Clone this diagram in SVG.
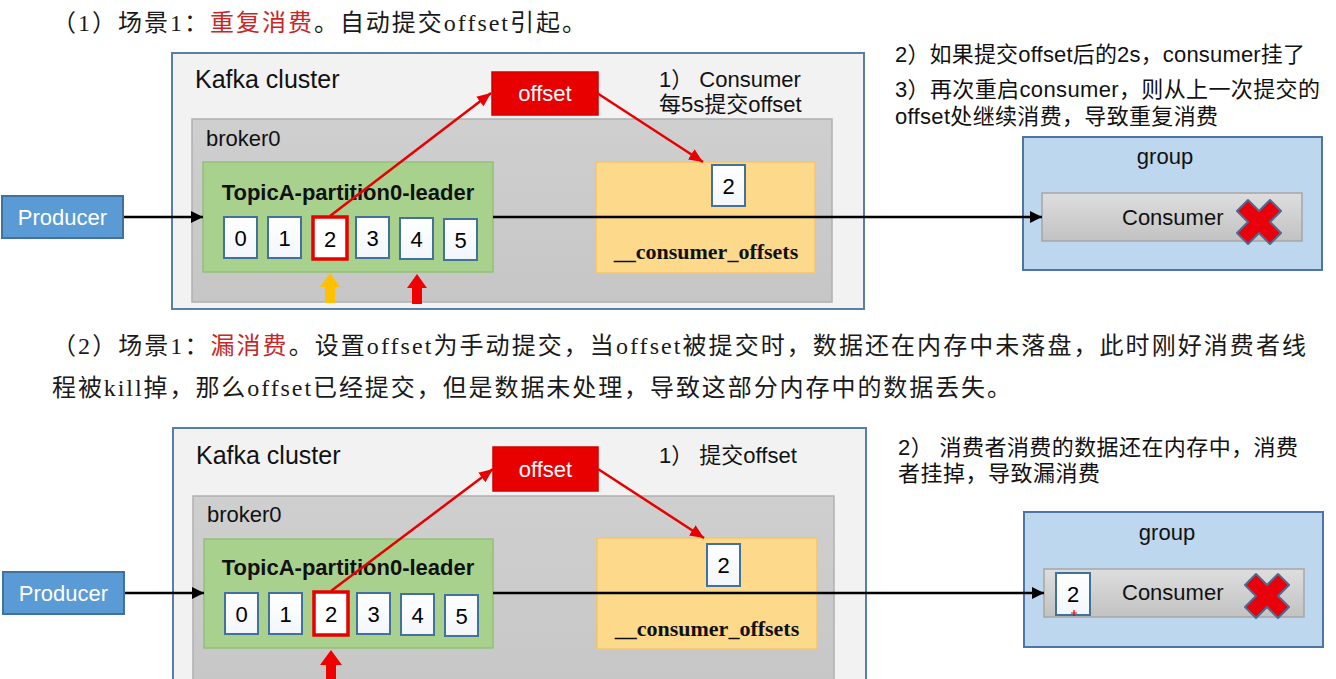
<svg xmlns="http://www.w3.org/2000/svg" width="1336" height="679" viewBox="0 0 1336 679">
<defs>
<style>
.sans{font-family:"Liberation Sans","Noto Sans CJK SC",sans-serif;}
.serif{font-family:"Liberation Serif","Noto Sans CJK SC",serif;}
.cluster{fill:#f2f2f2;stroke:#5a7ea6;stroke-width:2;}
.broker{fill:url(#bg);stroke:#b0b0b0;stroke-width:1.5;}
.topic{fill:#a9d18e;stroke:#93c078;stroke-width:1.5;}
.cell{fill:url(#wg);stroke:#41719c;stroke-width:2;}
.cellr{fill:#fff;stroke:#e60000;stroke-width:3.5;}
.offbox{fill:#e80000;stroke:#d00000;stroke-width:1.5;}
.yellow{fill:#fdd98b;stroke:#f4c66c;stroke-width:1.5;}
.prod{fill:#5b9bd5;stroke:#41719c;stroke-width:2;}
.grp{fill:#bdd7ee;stroke:#4f76a3;stroke-width:2;}
.cons{fill:url(#cg);stroke:#a6a6a6;stroke-width:1.5;}
.xmark{fill:#e8000b;stroke:#4f6a8f;stroke-width:2;stroke-linejoin:round;}
.lbl{font-size:22px;fill:#111;}
.dig{font-size:22px;fill:#000;text-anchor:middle;}
.blk{stroke:#000;stroke-width:2.5;fill:none;}
.red{stroke:#e80000;stroke-width:2.5;fill:none;}
</style>
<linearGradient id="bg" x1="0" y1="0" x2="0" y2="1"><stop offset="0" stop-color="#cfcfcf"/><stop offset="1" stop-color="#c6c6c6"/></linearGradient>
<linearGradient id="cg" x1="0" y1="0" x2="0" y2="1"><stop offset="0" stop-color="#dedede"/><stop offset="1" stop-color="#c2c2c2"/></linearGradient>
<linearGradient id="wg" x1="0" y1="0" x2="0" y2="1"><stop offset="0" stop-color="#ffffff"/><stop offset="1" stop-color="#f2f6fb"/></linearGradient>
<marker id="ab" markerUnits="userSpaceOnUse" markerWidth="14" markerHeight="14" refX="12" refY="6" orient="auto"><path d="M0,0 L12,6 L0,12 z" fill="#000"/></marker>
<marker id="ar" markerUnits="userSpaceOnUse" markerWidth="16" markerHeight="14" refX="14" refY="6" orient="auto"><path d="M0,0 L14,6 L0,12 z" fill="#e80000"/></marker>
</defs>
<rect x="0" y="0" width="1336" height="679" fill="#fff"/>

<!-- ===== Section 1 text ===== -->
<g id="title1">
<text class="serif" x="52" y="31" font-size="24" fill="#1a1a1a" textLength="534" lengthAdjust="spacing">（1）场景1：<tspan fill="#c62828">重复消费</tspan>。自动提交offset引起。</text>
</g>

<g id="cluster1">
<rect class="cluster" x="172" y="53" width="692" height="256"/>
<text class="sans" x="195" y="88" font-size="25" fill="#111">Kafka cluster</text>
</g>
<g id="broker1">
<rect class="broker" x="192" y="119" width="640" height="183"/>
<text class="sans lbl" x="206" y="146">broker0</text>
</g>
<g id="note1a">
<text class="sans lbl" x="659" y="87">1） Consumer</text>
<text class="sans lbl" x="659" y="112">每5s提交offset</text>
</g>
<g id="topic1">
<rect class="topic" x="203" y="162" width="290" height="110"/>
<text class="sans" x="348" y="200" font-size="22" font-weight="bold" fill="#111" text-anchor="middle">TopicA-partition0-leader</text>
<rect class="cell" x="224" y="217" width="33" height="41"/><text class="sans dig" x="240.5" y="246">0</text>
<rect class="cell" x="268" y="217" width="33" height="41"/><text class="sans dig" x="284.5" y="246">1</text>
<rect class="cell" x="356" y="217" width="33" height="41"/><text class="sans dig" x="372.5" y="246">3</text>
<rect class="cell" x="400" y="218" width="33" height="41"/><text class="sans dig" x="416.5" y="247">4</text>
<rect class="cell" x="444" y="219" width="33" height="41"/><text class="sans dig" x="460.5" y="248">5</text>
<rect class="cellr" x="313" y="217" width="34" height="42"/><text class="sans dig" x="330" y="247">2</text>
</g>
<g id="offset1">
<rect class="offbox" x="492" y="72" width="106" height="43"/>
<text class="sans" x="545" y="101" font-size="22" fill="#fff" text-anchor="middle">offset</text>
</g>
<g id="offsets1">
<rect class="yellow" x="596" y="162" width="219" height="111"/>
<rect class="cell" x="712" y="165" width="33" height="41"/><text class="sans dig" x="728.5" y="194">2</text>
<text class="serif" x="706" y="259" font-size="22" font-weight="bold" fill="#111" text-anchor="middle">__consumer_offsets</text>
</g>
<g id="producer1">
<rect class="prod" x="2" y="196" width="121" height="42"/>
<text class="sans" x="62.5" y="225" font-size="22" fill="#fff" text-anchor="middle">Producer</text>
</g>
<g id="note1b">
<text class="sans lbl" x="895" y="62" textLength="410" lengthAdjust="spacing">2）如果提交offset后的2s，consumer挂了</text>
<text class="sans lbl" x="895" y="97" textLength="425" lengthAdjust="spacing">3）再次重启consumer，则从上一次提交的</text>
<text class="sans lbl" x="895" y="124" textLength="323" lengthAdjust="spacing">offset处继续消费，导致重复消费</text>
</g>
<g id="group1">
<rect class="grp" x="1023" y="137" width="299" height="133"/>
<text class="sans lbl" x="1165" y="164" text-anchor="middle">group</text>
<rect class="cons" x="1042" y="193" width="260" height="48"/>
<text class="sans lbl" x="1122" y="225">Consumer</text>
<polygon class="xmark" transform="translate(1259,222)" points="-22,-11 -11,-22 0,-11 11,-22 22,-11 11,0 22,11 11,22 0,11 -11,22 -22,11 -11,0"/>
</g>
<g id="markers1">
<polygon points="330,273 340,287 335,287 335,303 325,303 325,287 320,287" fill="#ffc000"/>
<polygon points="417,274 427,288 422,288 422,304 412,304 412,288 407,288" fill="#f00000"/>
</g>

<!-- ===== Section 2 text ===== -->
<g id="title2">
<text class="serif" x="52" y="354" font-size="24" fill="#1a1a1a" textLength="1254" lengthAdjust="spacing">（2）场景1：<tspan fill="#c62828">漏消费</tspan>。设置offset为手动提交，当offset被提交时，数据还在内存中未落盘，此时刚好消费者线</text>
<text class="serif" x="52" y="396" font-size="24" fill="#1a1a1a" textLength="959" lengthAdjust="spacing">程被kill掉，那么offset已经提交，但是数据未处理，导致这部分内存中的数据丢失。</text>
</g>

<g id="cluster2">
<rect class="cluster" x="173" y="428" width="693" height="280"/>
<text class="sans" x="196" y="464" font-size="25" fill="#111">Kafka cluster</text>
</g>
<g id="broker2">
<rect class="broker" x="193" y="496" width="641" height="210"/>
<text class="sans lbl" x="207" y="522">broker0</text>
</g>
<g id="note2a">
<text class="sans lbl" x="659" y="463">1） 提交offset</text>
</g>
<g id="topic2">
<rect class="topic" x="204" y="539" width="289" height="109"/>
<text class="sans" x="348" y="575" font-size="22" font-weight="bold" fill="#111" text-anchor="middle">TopicA-partition0-leader</text>
<rect class="cell" x="225" y="593" width="33" height="41"/><text class="sans dig" x="241.5" y="622">0</text>
<rect class="cell" x="269" y="593" width="33" height="41"/><text class="sans dig" x="285.5" y="622">1</text>
<rect class="cell" x="357" y="593" width="33" height="41"/><text class="sans dig" x="373.5" y="622">3</text>
<rect class="cell" x="401" y="594" width="33" height="41"/><text class="sans dig" x="417.5" y="623">4</text>
<rect class="cell" x="445" y="595" width="33" height="41"/><text class="sans dig" x="461.5" y="624">5</text>
<rect class="cellr" x="314" y="592" width="34" height="43"/><text class="sans dig" x="331" y="622">2</text>
</g>
<g id="offset2">
<rect class="offbox" x="493" y="447" width="105" height="44"/>
<text class="sans" x="545.5" y="477" font-size="22" fill="#fff" text-anchor="middle">offset</text>
</g>
<g id="offsets2">
<rect class="yellow" x="597" y="538" width="220" height="111"/>
<rect class="cell" x="707" y="544" width="33" height="42"/><text class="sans dig" x="723.5" y="573">2</text>
<text class="serif" x="707" y="636" font-size="22" font-weight="bold" fill="#111" text-anchor="middle">__consumer_offsets</text>
</g>
<g id="producer2">
<rect class="prod" x="3" y="572" width="121" height="42"/>
<text class="sans" x="63.5" y="601" font-size="22" fill="#fff" text-anchor="middle">Producer</text>
</g>
<g id="note2b">
<text class="sans lbl" x="898" y="455" textLength="400" lengthAdjust="spacing">2） 消费者消费的数据还在内存中，消费</text>
<text class="sans lbl" x="898" y="481" textLength="202" lengthAdjust="spacing">者挂掉，导致漏消费</text>
</g>
<g id="group2">
<rect class="grp" x="1024" y="512" width="299" height="135"/>
<text class="sans lbl" x="1167" y="540" text-anchor="middle">group</text>
<rect class="cons" x="1044" y="569" width="260" height="48"/>
<rect class="cell" x="1056" y="573" width="34" height="42"/><text class="sans dig" x="1073" y="602">2</text>
<path d="M1071,613 h6 M1074,610 v6" stroke="#e00000" stroke-width="1.2"/>
<text class="sans lbl" x="1122" y="600">Consumer</text>
<polygon class="xmark" transform="translate(1267,596)" points="-22,-11 -11,-22 0,-11 11,-22 22,-11 11,0 22,11 11,22 0,11 -11,22 -22,11 -11,0"/>
</g>
<g id="markers2">
<polygon points="331,650 342,665 336,665 336,690 326,690 326,665 320,665" fill="#f00000"/>
</g>

<!-- ===== Connectors ===== -->
<g id="connectors">
<line class="blk" x1="124" y1="217" x2="203" y2="217" marker-end="url(#ab)"/>
<line class="blk" x1="493" y1="217" x2="1042" y2="217" marker-end="url(#ab)"/>
<line class="red" x1="330" y1="216" x2="491" y2="93" marker-end="url(#ar)"/>
<line class="red" x1="597" y1="93" x2="703" y2="162" marker-end="url(#ar)"/>
<line class="blk" x1="125" y1="593" x2="204" y2="593" marker-end="url(#ab)"/>
<line class="blk" x1="493" y1="593" x2="1044" y2="593" marker-end="url(#ab)"/>
<line class="red" x1="331" y1="591" x2="493" y2="469" marker-end="url(#ar)"/>
<line class="red" x1="598" y1="469" x2="704" y2="538" marker-end="url(#ar)"/>
</g>
</svg>
